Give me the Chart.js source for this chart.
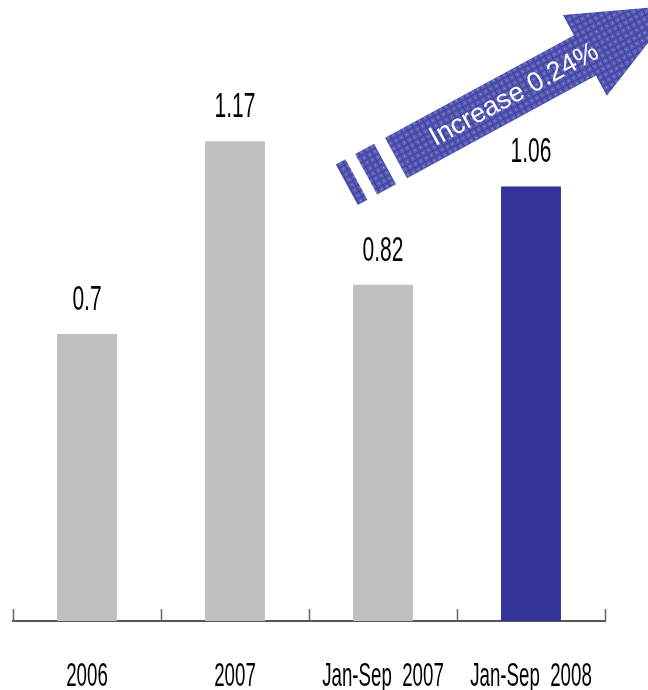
<!DOCTYPE html>
<html lang="en">
<head>
<meta charset="UTF-8">
<title>Increase chart</title>
<script src="https://cdn.jsdelivr.net/npm/chart.js@4.4.1/dist/chart.umd.min.js"></script>
<style>
  html, body { margin: 0; padding: 0; background: #fff; }
  #wrap { width: 648px; height: 690px; }
</style>
</head>
<body>
<div id="wrap"><canvas id="myChart" width="648" height="690"></canvas></div>
<script>
const categories = ['2006', '2007', 'Jan-Sep  2007', 'Jan-Sep  2008'];
const values = [0.7, 1.17, 0.82, 1.06];
const barColors = ['#c0c0c0', '#c0c0c0', '#c0c0c0', '#333399'];
const arrowText = 'Increase 0.24%';

// hatched texture for the arrow
function makePattern(ctx) {
  const p = document.createElement('canvas');
  p.width = 6; p.height = 6;
  const c = p.getContext('2d');
  c.fillStyle = '#5a5db4';
  c.fillRect(0, 0, 6, 6);
  c.fillStyle = '#3b3e9e';
  c.fillRect(0, 5, 6, 1);
  c.fillRect(5, 0, 1, 6);
  c.fillStyle = '#a3a5dc';
  c.fillRect(2, 2, 1, 1);
  return ctx.createPattern(p, 'repeat');
}

function drawNarrow(ctx, text, x, y, size, sx) {
  ctx.save();
  ctx.font = size + 'px "Liberation Sans", Arial, sans-serif';
  ctx.translate(x, y);
  ctx.scale(sx, 1);
  ctx.textAlign = 'center';
  ctx.textBaseline = 'alphabetic';
  ctx.fillStyle = '#000';
  ctx.fillText(text, 0, 0);
  ctx.restore();
}

const extras = {
  id: 'extras',
  afterDatasetsDraw(chart) {
    const ctx = chart.ctx;
    const xs = chart.scales.x;
    const area = chart.chartArea;

    // tick marks pointing up from the axis, at category edges
    ctx.save();
    ctx.strokeStyle = '#666';
    ctx.lineWidth = 1.5;
    for (let i = 0; i <= categories.length; i++) {
      const px = Math.round(xs.getPixelForValue(i - 0.5)) + 0.5;
      ctx.beginPath();
      ctx.moveTo(px, area.bottom);
      ctx.lineTo(px, area.bottom - 12);
      ctx.stroke();
    }
    ctx.restore();

    // category labels
    categories.forEach((c, i) => {
      drawNarrow(ctx, c, xs.getPixelForValue(i), 686, 34, 0.55);
    });

    // value labels
    chart.getDatasetMeta(0).data.forEach((bar, i) => {
      drawNarrow(ctx, String(values[i]), bar.x, bar.y - 24, 35, 0.6);
    });

    // decorative arrow
    ctx.save();
    ctx.translate(396, 158);
    ctx.rotate(-28.5 * Math.PI / 180);
    ctx.fillStyle = makePattern(ctx);
    ctx.fillRect(-56, -23, 11, 46);
    ctx.fillRect(-34, -23, 21.5, 46);
    ctx.beginPath();
    ctx.moveTo(0, -23);
    ctx.lineTo(215, -23);
    ctx.lineTo(215, -46);
    ctx.lineTo(320, 0);
    ctx.lineTo(215, 46);
    ctx.lineTo(215, 23);
    ctx.lineTo(0, 23);
    ctx.closePath();
    ctx.fill();
    ctx.fillStyle = '#fff';
    ctx.font = '27px "Liberation Sans", Arial, sans-serif';
    ctx.textAlign = 'center';
    ctx.textBaseline = 'middle';
    ctx.fillText(arrowText, 134, 1);
    ctx.restore();
  }
};

const ctx = document.getElementById('myChart').getContext('2d');
const myChart = new Chart(ctx, {
  type: 'bar',
  data: {
    labels: categories,
    datasets: [{
      data: values,
      backgroundColor: barColors,
      borderWidth: 0,
      barPercentage: 0.81,
      categoryPercentage: 0.5
    }]
  },
  options: {
    responsive: false,
    animation: false,
    layout: { padding: { top: 6, left: 13, right: 43, bottom: 0 } },
    plugins: {
      legend: { display: false },
      tooltip: { enabled: false }
    },
    scales: {
      x: {
        grid: { display: false, drawTicks: false },
        ticks: { display: false },
        border: { display: true, color: '#555', width: 2 },
        afterFit(scale) { scale.height = 69; }
      },
      y: {
        display: false,
        min: 0,
        max: 1.5
      }
    }
  },
  plugins: [extras]
});
</script>
</body>
</html>
